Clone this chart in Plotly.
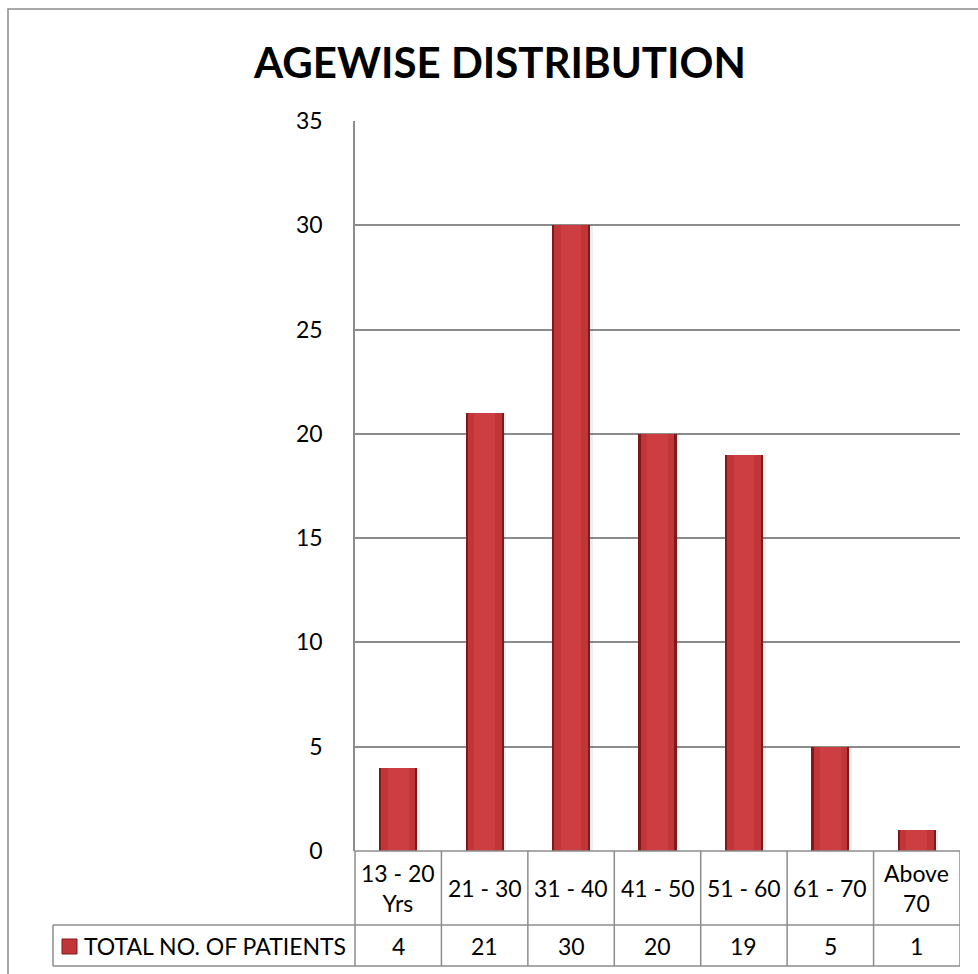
import plotly.graph_objects as go

# Age groups and patient counts
age_groups = ["13 - 20 Yrs", "21 - 30", "31 - 40", "41 - 50", "51 - 60", "61 - 70", "Above 70"]
group_labels = ["13 - 20<br>Yrs", "21 - 30", "31 - 40", "41 - 50", "51 - 60", "61 - 70", "Above<br>70"]
patients = [4, 21, 30, 20, 19, 5, 1]
series_name = "TOTAL NO. OF PATIENTS"
y_ticks = [0, 5, 10, 15, 20, 25, 30, 35]

FONT = "Lato"
FS = 23
GRID = "#8c8c8c"
W, H = 978, 974
L, R, T, B = 355, 18, 121, 123
PW, PH = W - L - R, H - T - B


def px_x(px):
    return (px - L) / PW


def px_y(py):
    return (H - B - py) / PH


x_idx = list(range(len(age_groups)))

fig = go.Figure()
# soft drop shadow to the right of each column
fig.add_trace(go.Bar(x=x_idx, y=patients, width=0.45, offset=-0.2,
                     marker=dict(color="rgba(0,0,0,0.06)", line=dict(width=0)),
                     hoverinfo="skip", showlegend=False))
# dark bevelled rim
fig.add_trace(go.Bar(x=x_idx, y=patients, width=0.44, name=series_name,
                     marker=dict(color="#7d1a1c", line=dict(width=0)),
                     showlegend=False))
# main face
fig.add_trace(go.Bar(x=x_idx, y=patients, width=0.39,
                     marker=dict(color="#c03638", line=dict(width=0)),
                     hoverinfo="skip", showlegend=False))
# lighter centre strip
fig.add_trace(go.Bar(x=x_idx, y=patients, width=0.24,
                     marker=dict(color="#cc3e41", line=dict(width=0)),
                     hoverinfo="skip", showlegend=False))

fig.update_layout(
    width=W, height=H,
    margin=dict(l=L, r=R, t=T, b=B),
    paper_bgcolor="white", plot_bgcolor="white",
    barmode="overlay", bargap=0,
    font=dict(family=FONT, size=FS, color="black"),
    showlegend=False,
)

fig.update_xaxes(range=[-0.5, len(age_groups) - 0.5], showticklabels=False,
                 showgrid=False, zeroline=False, showline=False, fixedrange=True)
fig.update_yaxes(range=[0, 35], tickvals=y_ticks, showgrid=True, gridcolor=GRID,
                 gridwidth=1.5, zeroline=False, showline=True, linecolor=GRID,
                 linewidth=1.5, ticks="", ticklabelstandoff=26,
                 tickfont=dict(family=FONT, size=FS, color="black"), fixedrange=True)

shapes = []
line = dict(color=GRID, width=1.5)
# outer chart border
shapes.append(dict(type="rect", xref="paper", yref="paper", layer="below",
                   x0=px_x(8), x1=px_x(990), y0=px_y(990), y1=px_y(9), line=line))
# data table: category row and value row
row_top, row_mid, row_bot = 851, 925, 966
shapes.append(dict(type="line", xref="paper", yref="paper",
                   x0=0, x1=1, y0=0, y1=0, line=line))
shapes.append(dict(type="line", xref="paper", yref="paper",
                   x0=px_x(L), x1=px_x(L), y0=px_y(row_top), y1=px_y(row_bot), line=line))
for i in range(len(age_groups)):
    shapes.append(dict(type="line", xref="x", yref="paper",
                       x0=i + 0.5, x1=i + 0.5, y0=px_y(row_top), y1=px_y(row_bot), line=line))
shapes.append(dict(type="line", xref="paper", yref="paper",
                   x0=px_x(53), x1=1, y0=px_y(row_mid), y1=px_y(row_mid), line=line))
shapes.append(dict(type="line", xref="paper", yref="paper",
                   x0=px_x(53), x1=1, y0=px_y(row_bot), y1=px_y(row_bot), line=line))
shapes.append(dict(type="line", xref="paper", yref="paper",
                   x0=px_x(53), x1=px_x(53), y0=px_y(row_mid), y1=px_y(row_bot), line=line))
# legend key
shapes.append(dict(type="rect", xref="paper", yref="paper",
                   x0=px_x(62), x1=px_x(77), y0=px_y(954), y1=px_y(939),
                   fillcolor="#c03638", line=dict(color="#7d1a1c", width=1)))

annotations = [
    dict(text="<b>AGEWISE DISTRIBUTION</b>", xref="paper", yref="paper",
         x=px_x(499), y=px_y(62), xanchor="center", yanchor="middle",
         showarrow=False, font=dict(family=FONT, size=42, color="black")),
    dict(text=series_name, xref="paper", yref="paper",
         x=px_x(82), y=px_y(946), xanchor="left", yanchor="middle",
         showarrow=False, font=dict(family=FONT, size=FS, color="black")),
]
for i, (lab, v) in enumerate(zip(group_labels, patients)):
    annotations.append(dict(text=lab, xref="x", yref="paper", x=i, y=px_y(888),
                            xanchor="center", yanchor="middle", showarrow=False,
                            font=dict(family=FONT, size=FS, color="black")))
    annotations.append(dict(text=str(v), xref="x", yref="paper", x=i, y=px_y(946),
                            xanchor="center", yanchor="middle", showarrow=False,
                            font=dict(family=FONT, size=FS, color="black")))

fig.update_layout(shapes=shapes, annotations=annotations)
fig.write_html("out.html")
